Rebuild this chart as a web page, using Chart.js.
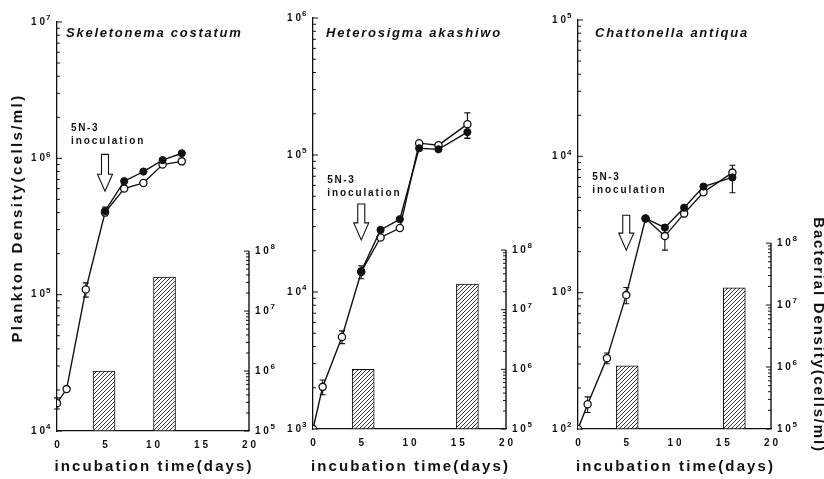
<!DOCTYPE html>
<html><head><meta charset="utf-8">
<script src="https://cdn.jsdelivr.net/npm/chart.js@4/dist/chart.umd.min.js"></script>
<style>
html,body{margin:0;padding:0;background:#fff;}
#wrap{position:relative;width:824px;height:479px;overflow:hidden;}
canvas{position:absolute;left:0;top:0;}
</style></head><body>
<div id="wrap">
<canvas id="c1" width="824" height="479"></canvas>
<canvas id="c2" width="824" height="479"></canvas>
<canvas id="c3" width="824" height="479"></canvas>
</div>
<script>
// ---------- data ----------
const inoculationDay = 5;
const xTicks = [0, 5, 10, 15, 20];

// Skeletonema costatum
const skDays      = [0, 1, 3, 5, 7, 9, 11, 13];
const skOpen      = [1.6e4, 2.03e4, 1.09e5, 4.0e5, 6.0e5, 6.6e5, 9.0e5, 9.5e5];
const skFilled    = [null, null, null, 4.1e5, 6.8e5, 8.0e5, 9.7e5, 1.09e6];
const skOpenErr   = [1.5e3, 0, 1.3e4, 0, 0, 0, 0, 0];
const skFilledErr = [0, 0, 0, 3e4, 0, 0, 0, 0];
const skBarDays   = [4.9, 11.2];
const skBacteria  = [1.0e6, 3.7e7];

// Heterosigma akashiwo
const haDays      = [0, 1, 3, 5, 7, 9, 11, 13, 16];
const haOpen      = [1.0e3, 2.03e3, 4.7e3, 1.4e4, 2.5e4, 2.93e4, 1.22e5, 1.18e5, 1.68e5];
const haFilled    = [null, null, null, 1.42e4, 2.84e4, 3.4e4, 1.12e5, 1.10e5, 1.47e5];
const haOpenErr   = [0, 2.5e2, 5e2, 1.5e3, 0, 0, 0, 0, 3.5e4];
const haFilledErr = [0, 0, 0, 0, 0, 0, 0, 0, 1.5e4];
const haBarDays   = [5.2, 16.0];
const haBacteria  = [1.0e6, 2.7e7];

// Chattonella antiqua
const caDays      = [0, 1, 3, 5, 7, 9, 11, 13, 16];
const caOpen      = [100, 152, 331, 960, 3.5e3, 2.6e3, 3.8e3, 5.45e3, 7.6e3];
const caFilled    = [null, null, null, null, 3.5e3, 3.0e3, 4.2e3, 6.0e3, 7.0e3];
const caOpenErr   = [0, 20, 30, 130, 0, 550, 0, 0, 0];
const caFilledErr = [0, 0, 0, 0, 0, 0, 0, 0, 1.6e3];
const caBarDays   = [5.1, 16.2];
const caBacteria  = [1.05e6, 1.9e7];

// ---------- helpers ----------
const FONT = '"Liberation Sans", Arial, "DejaVu Sans", sans-serif';
const INK = '#111';
const TICK_FONT = 'bold 10px ' + FONT;
const EXP_FONT = 'bold 8px ' + FONT;
function isPow10(v) { const l = Math.log10(v); return Math.abs(l - Math.round(l)) < 1e-6; }
function baseLabel(v, maxShown) {
  if (!isPow10(v)) return '';
  if (maxShown && v > maxShown * 1.0001) return '';
  return '1 0';
}
function hatchPattern() {
  const c = document.createElement('canvas'); c.width = 4; c.height = 4;
  const g = c.getContext('2d');
  g.fillStyle = '#fff'; g.fillRect(0, 0, 4, 4);
  g.strokeStyle = '#333'; g.lineWidth = 1;
  g.beginPath();
  g.moveTo(0, 4); g.lineTo(4, 0);
  g.moveTo(-1, 1); g.lineTo(1, -1);
  g.moveTo(3, 5); g.lineTo(5, 3);
  g.stroke();
  return g.createPattern(c, 'repeat');
}
function pts(days, vals) {
  return days.map((d, i) => ({x: d, y: vals[i]})).filter(p => p.y != null);
}
function spacedText(ctx, text, x, y, font, spacing, align, rot) {
  ctx.save();
  ctx.translate(x, y);
  if (rot) ctx.rotate(rot);
  ctx.font = font;
  ctx.letterSpacing = spacing + 'px';
  ctx.textAlign = align || 'left';
  ctx.textBaseline = 'middle';
  ctx.fillStyle = INK;
  ctx.fillText(text, 0, 0);
  ctx.restore();
}

const W = 824, H = 479, LW = 40, RW = 40, XH = 30;
const panels = [
  {id: 'c1', name: 'Skeletonema costatum', days: skDays, open: skOpen, filled: skFilled,
   openErr: skOpenErr, filledErr: skFilledErr, barDays: skBarDays, bacteria: skBacteria,
   yMin: 1e4, yMax: 1e7, y2Max: Math.pow(10, 11.82),
   area: {left: 57, right: 249, top: 22, bottom: 431}, titleDx: 9,
   arrow: {top: 1.07e6, tip: 5.74e5, label: 1.66e6}},
  {id: 'c2', name: 'Heterosigma akashiwo', days: haDays, open: haOpen, filled: haFilled,
   openErr: haOpenErr, filledErr: haFilledErr, barDays: haBarDays, bacteria: haBacteria,
   yMin: 1e3, yMax: 1e6, y2Max: Math.pow(10, 11.89),
   area: {left: 313, right: 506, top: 18, bottom: 429}, titleDx: 13,
   arrow: {top: 4.39e4, tip: 2.4e4, label: 6.5e4}},
  {id: 'c3', name: 'Chattonella antiqua', days: caDays, open: caOpen, filled: caFilled,
   openErr: caOpenErr, filledErr: caFilledErr, barDays: caBarDays, bacteria: caBacteria,
   yMin: 1e2, yMax: 1e5, y2Max: Math.pow(10, 11.6),
   area: {left: 578, right: 771, top: 20, bottom: 429}, titleDx: 17,
   arrow: {top: 3.7e3, tip: 2.05e3, label: 7.0e3}}
];

function decorPlugin(p, idx) {
  return {
    id: 'decor' + idx,
    beforeDatasetsDraw(chart) {
      const ctx = chart.ctx, xs = chart.scales.x, ys = chart.scales.y;
      ctx.save();
      ctx.strokeStyle = INK; ctx.lineWidth = 1.1;
      [[p.open, p.openErr], [p.filled, p.filledErr]].forEach(([vals, errs]) => {
        vals.forEach((v, i) => {
          const e = errs[i];
          if (v == null || !e) return;
          const x = xs.getPixelForValue(p.days[i]);
          const y1 = ys.getPixelForValue(v + e), y2 = ys.getPixelForValue(Math.max(v - e, ys.min));
          ctx.beginPath();
          ctx.moveTo(x, y1); ctx.lineTo(x, y2);
          ctx.moveTo(x - 3, y1); ctx.lineTo(x + 3, y1);
          ctx.moveTo(x - 3, y2); ctx.lineTo(x + 3, y2);
          ctx.stroke();
        });
      });
      ctx.restore();
    },
    afterDraw(chart) {
      const ctx = chart.ctx, xs = chart.scales.x, ys = chart.scales.y, y2 = chart.scales.y2;
      const ca = chart.chartArea;
      ctx.save();
      ctx.strokeStyle = INK; ctx.lineWidth = 1;
      ctx.beginPath();
      // inward ticks on the left axis
      for (let e = Math.log10(p.yMin); e < Math.log10(p.yMax) + 0.5; e++) {
        for (let k = 1; k <= 9; k++) {
          const v = k * Math.pow(10, e);
          if (v > p.yMax * 1.0001) break;
          const py = ys.getPixelForValue(v);
          ctx.moveTo(ca.left, py); ctx.lineTo(ca.left + (k === 1 ? 5 : 3), py);
        }
      }
      // right (bacterial) axis: line and inward ticks up to 1e8
      for (let e = 5; e <= 8; e++) {
        for (let k = 1; k <= 9; k++) {
          const v = k * Math.pow(10, e);
          if (v > 1e8 * 1.0001) break;
          const py = y2.getPixelForValue(v);
          ctx.moveTo(ca.right, py); ctx.lineTo(ca.right - (k === 1 ? 5 : 3), py);
        }
      }
      ctx.stroke();
      ctx.lineWidth = 1.4;
      ctx.beginPath();
      ctx.moveTo(ca.right, y2.getPixelForValue(1e5));
      ctx.lineTo(ca.right, y2.getPixelForValue(1e8));
      ctx.stroke();

      // exponents of the "1 0" tick labels (superscripts)
      ctx.fillStyle = INK;
      ctx.textBaseline = 'middle';
      ctx.font = TICK_FONT;
      const baseW = ctx.measureText('1 0').width;
      ctx.font = EXP_FONT;
      ctx.textAlign = 'left';
      ys.ticks.forEach(t => {
        if (!isPow10(t.value)) return;
        const py = ys.getPixelForValue(t.value);
        ctx.fillText(String(Math.round(Math.log10(t.value))), ca.left - 11, py - 4);
      });
      y2.ticks.forEach(t => {
        if (!isPow10(t.value) || t.value > 1e8 * 1.0001) return;
        const py = y2.getPixelForValue(t.value);
        ctx.fillText(String(Math.round(Math.log10(t.value))), ca.right + 6 + baseW + 1.5, py - 4);
      });

      // inoculation arrow (hollow)
      const ax = xs.getPixelForValue(inoculationDay);
      const top = ys.getPixelForValue(p.arrow.top), tip = ys.getPixelForValue(p.arrow.tip);
      const hs = tip - 17;
      ctx.fillStyle = '#fff'; ctx.lineWidth = 1.1;
      ctx.beginPath();
      ctx.moveTo(ax - 3.5, top); ctx.lineTo(ax + 3.5, top); ctx.lineTo(ax + 3.5, hs);
      ctx.lineTo(ax + 7.5, hs); ctx.lineTo(ax, tip); ctx.lineTo(ax - 7.5, hs);
      ctx.lineTo(ax - 3.5, hs); ctx.closePath();
      ctx.fill(); ctx.stroke();
      ctx.restore();

      const ly = ys.getPixelForValue(p.arrow.label);
      spacedText(ctx, '5N-3', ax - 34, ly, 'bold 10px ' + FONT, 1.6, 'left');
      spacedText(ctx, 'inoculation', ax - 34, ly + 13, 'bold 10px ' + FONT, 1.9, 'left');

      // species name
      spacedText(ctx, p.name, ca.left + p.titleDx, 33, 'italic bold 13px ' + FONT, 1.75, 'left');
      // x-axis title
      spacedText(ctx, 'incubation time(days)', (ca.left + ca.right) / 2 + 1, 467, 'bold 15px ' + FONT, 2.1, 'center');
      if (idx === 0) {
        spacedText(ctx, 'Plankton Density(cells/ml)', 18, 218, 'bold 15px ' + FONT, 2.4, 'center', -Math.PI / 2);
      }
      if (idx === 2) {
        spacedText(ctx, 'Bacterial Density(cells/ml)', 818, 335, 'bold 15px ' + FONT, 1.8, 'center', Math.PI / 2);
      }
    }
  };
}

const pattern = hatchPattern();
panels.forEach((p, idx) => {
  const tickFont = {family: FONT, size: 10, weight: 'bold'};
  new Chart(document.getElementById(p.id), {
    type: 'line',
    data: {
      datasets: [
        {label: 'filled', data: pts(p.days, p.filled), borderColor: INK, borderWidth: 1.4,
         pointRadius: 3.6, pointBackgroundColor: INK, pointBorderColor: INK, pointBorderWidth: 1,
         tension: 0, order: 0, yAxisID: 'y'},
        {label: 'open', data: pts(p.days, p.open), borderColor: INK, borderWidth: 1.4,
         pointRadius: 3.6, pointBackgroundColor: '#fff', pointBorderColor: INK, pointBorderWidth: 1.3,
         tension: 0, order: 1, yAxisID: 'y'},
        {type: 'bar', label: 'bacteria', data: p.barDays.map((d, i) => ({x: d, y: p.bacteria[i]})),
         backgroundColor: pattern, borderColor: INK, borderWidth: 1, borderSkipped: false,
         barThickness: 22, order: 2, yAxisID: 'y2', xAxisID: 'x'}
      ]
    },
    options: {
      responsive: false, animation: false, events: [],
      layout: {padding: {left: p.area.left - LW, right: W - p.area.right - RW, top: p.area.top, bottom: H - p.area.bottom - XH}},
      plugins: {legend: {display: false}, tooltip: {enabled: false}, title: {display: false}},
      scales: {
        x: {type: 'linear', min: 0, max: 20, offset: false,
            grid: {display: false, drawTicks: false},
            border: {display: true, color: INK, width: 1.3},
            afterBuildTicks: s => { s.ticks = xTicks.map(v => ({value: v})); },
            ticks: {font: tickFont, color: INK, padding: 8, maxRotation: 0,
                    callback: v => String(v).split('').join(' ')},
            afterFit: s => { s.height = XH; }},
        y: {type: 'logarithmic', position: 'left', min: p.yMin, max: p.yMax,
            grid: {display: false, drawTicks: false},
            border: {display: true, color: INK, width: 1.3},
            ticks: {font: tickFont, color: INK, padding: 12, autoSkip: false,
                    callback: v => baseLabel(v)},
            afterFit: s => { s.width = LW; }},
        y2: {type: 'logarithmic', position: 'right', min: 1e5, max: p.y2Max,
             grid: {display: false, drawTicks: false},
             border: {display: false},
             ticks: {font: tickFont, color: INK, padding: 6, autoSkip: false,
                     callback: v => baseLabel(v, 1e8)},
             afterFit: s => { s.width = RW; }}
      }
    },
    plugins: [decorPlugin(p, idx)]
  });
});
</script>
</body></html>
